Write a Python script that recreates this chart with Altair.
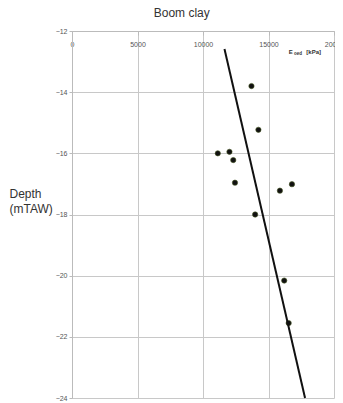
import altair as alt
import pandas as pd

# measured points
e_oed = [13700, 14230, 11130, 12020, 12310, 12440, 15870, 16790, 13980, 16200, 16540]
depth = [-13.8, -15.23, -16.0, -15.95, -16.22, -16.96, -17.22, -17.01, -18.0, -20.16, -21.55]

# trend line end points
line_x = [11640, 17790]
line_y = [-12.59, -24.0]

pts = pd.DataFrame({"E": e_oed, "D": depth})
ln = pd.DataFrame({"E": line_x, "D": line_y})

W, H = 262, 367
xs = alt.Scale(domain=[0, 20000], nice=False)
ys = alt.Scale(domain=[-24, -12], nice=False)

xax = alt.Axis(orient="bottom", offset=-H, values=[0, 5000, 10000, 15000, 20000], format="d",
               labelFontSize=7, labelColor="#555", labelPadding=5, tickSize=4,
               tickColor="#bbb", domainColor="#bbb", gridColor="#c8c8c8", title=None,
               labelFont="Liberation Sans", labelFlush=False)
yax = alt.Axis(values=[-12, -14, -16, -18, -20, -22, -24], labelFontSize=7, labelColor="#555",
               tickSize=3, tickColor="#bbb", domainColor="#bbb", gridColor="#c8c8c8",
               labelPadding=2, labelFont="Liberation Sans",
               title=["Depth", "(mTAW)"], titleAngle=0, titleAlign="left",
               titleBaseline="middle", titleX=-63, titleY=162, titleFontSize=12,
               titleFontWeight="normal", titleColor="#333", titleFont="Liberation Sans",
               titleLineHeight=15)

base_x = alt.X("E:Q", scale=xs, axis=xax)
base_y = alt.Y("D:Q", scale=ys, axis=yax)

points = alt.Chart(pts).mark_point(filled=True, size=28, color="#111",
                                   stroke="#445522", strokeWidth=0.6, opacity=1).encode(x=base_x, y=base_y)
line = alt.Chart(ln).mark_line(color="#111", strokeWidth=2).encode(
    x=alt.X("E:Q", scale=xs), y=alt.Y("D:Q", scale=ys))

def txt(e, d, t, size, weight="bold", align="left", color="#333"):
    df = pd.DataFrame({"E": [e], "D": [d], "t": [t]})
    return alt.Chart(df).mark_text(fontSize=size, fontWeight=weight, color=color, align=align,
                                   font="Liberation Sans").encode(
        x=alt.X("E:Q", scale=xs), y=alt.Y("D:Q", scale=ys), text="t:N")

t1 = txt(16550, -12.68, "E", 6)
t2 = txt(16950, -12.74, "oed", 4.5)
t3 = txt(18450, -12.68, "[kPa]", 6, align="center")
title = txt(8380, -11.4, "Boom clay", 12, weight="normal", align="center")

chart = alt.layer(points, line, t1, t2, t3, title).properties(
    width=W, height=H,
    autosize=alt.AutoSizeParams(type="none"),
    padding={"left": 64, "top": 23, "right": 1, "bottom": 4},
).configure_view(strokeWidth=0).configure_axis(gridWidth=1)

chart.save("out.html", embed_options={"renderer": "svg", "actions": False})
